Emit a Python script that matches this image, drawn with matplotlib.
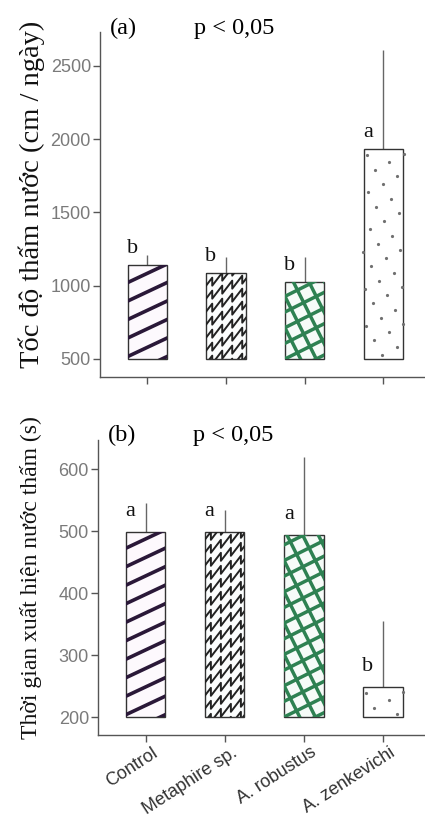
import matplotlib
matplotlib.use('Agg')
import matplotlib.pyplot as plt
import numpy as np
from matplotlib.collections import LineCollection
from matplotlib.transforms import IdentityTransform, ScaledTranslation

groups = ['Control', 'Metaphire sp.', 'A. robustus', 'A. zenkevichi']

rate_mean = [1144, 1089, 1027, 1932]
rate_err = [68, 110, 172, 678]
rate_letters = ['b', 'b', 'b', 'a']

time_mean = [498, 498, 494, 248]
time_err = [47, 36, 126, 107]
time_letters = ['a', 'a', 'a', 'b']

SERIF = ['Liberation Serif', 'DejaVu Serif']
SANS = ['Liberation Sans', 'DejaVu Sans']
GREY = '#555555'


def lines_in(ax, bar, segs, color, lw):
    coll = LineCollection(segs, colors=color, linewidths=lw,
                          transform=IdentityTransform(), zorder=2.5)
    ax.add_collection(coll, autolim=False)
    coll.set_clip_path(bar)


def stripes(ax, bar, slope, step, color, lw):
    bb = bar.get_window_extent()
    segs = []
    c = bb.y0 - slope * bb.width - step
    while c < bb.y1 + step:
        segs.append([(bb.x0 - 5, c), (bb.x1 + 5, c + slope * (bb.width + 10))])
        c += step
    lines_in(ax, bar, segs, color, lw)


def cross(ax, bar, step, color, lw):
    bb = bar.get_window_extent()
    ang = np.arctan(0.5)
    u = np.array([np.cos(ang), np.sin(ang)])
    v = np.array([-np.sin(ang), np.cos(ang)])
    ctr = np.array([bb.x0, bb.y0])
    L = 400
    segs = []
    for k in range(-30, 31):
        p = ctr + v * k * step
        segs.append([p - u * L, p + u * L])
        q = ctr + u * k * step
        segs.append([q - v * L, q + v * L])
    lines_in(ax, bar, segs, color, lw)


def zigzag(ax, bar, color, lw):
    bb = bar.get_window_extent()
    segs = []
    y = bb.y0 - bb.width * 0.5 - 16
    while y < bb.y1 + 16:
        pts = []
        x = bb.x0 - 4
        yy = y
        while x < bb.x1 + 10:
            pts.append((x, yy))
            pts.append((x + 10, yy + 13))
            pts.append((x + 10, yy + 5))
            x += 10
            yy += 5
        segs.append(pts)
        y += 13
    lines_in(ax, bar, segs, color, lw)


def dots(ax, bar, color):
    bb = bar.get_window_extent()
    v1 = np.array([6.5, 22.5])
    v2 = np.array([8.0, -14.5])
    xs, ys = [], []
    for i in range(-40, 40):
        for j in range(-40, 40):
            p = np.array([bb.x0 + 3, bb.y1 - 6]) + i * v1 + j * v2
            if bb.x0 - 1 <= p[0] <= bb.x1 + 1 and bb.y0 <= p[1] <= bb.y1 - 2:
                xs.append(p[0])
                ys.append(p[1])
    ax.plot(xs, ys, 'o', ms=2.3, color=color, mec='none',
            transform=IdentityTransform(), zorder=2.5, clip_on=False)


def panel(ax, means, errs, letters, base, ylim, yticks, tag, ylabel, lab_size,
          letter_off):
    x = np.arange(len(groups))
    means = np.array(means)
    faces = ['#fdf9fd', '#fbfdfd', '#f6fbf8', '#ffffff']
    bars = ax.bar(x, means - base, bottom=base, width=0.5, color=faces,
                  edgecolor='#333333', linewidth=1.0, zorder=2)
    ax.vlines(x, means, means + np.array(errs), color='#666666', lw=1.0, zorder=1)
    for xi, m, lt in zip(x, means, letters):
        ax.text(xi - 0.19, m + letter_off, lt, ha='center', va='baseline',
                fontsize=16, family=SERIF, color='#111111')
    ax.set_xlim(-0.6, 3.53)
    ax.set_ylim(*ylim)
    ax.set_yticks(yticks)
    ax.set_xticks(x)
    for s in ['top', 'right']:
        ax.spines[s].set_visible(False)
    for s in ['left', 'bottom']:
        ax.spines[s].set_color(GREY)
        ax.spines[s].set_linewidth(1.0)
    ax.tick_params(colors=GREY, length=5, width=1.0, pad=1.5)
    for t in ax.get_yticklabels():
        t.set_fontfamily(SANS)
        t.set_fontsize(13)
        t.set_color('#7a7a7a')
    ax.set_ylabel(ylabel, family=SERIF, fontsize=lab_size, color='#111111')
    ax.text(0.03, 0.995, tag, transform=ax.transAxes, family=SERIF,
            fontsize=17.5, va='baseline', ha='left')
    ax.text(0.29, 0.995, 'p < 0,05', transform=ax.transAxes, family=SERIF,
            fontsize=17.5, va='baseline', ha='left')
    return bars


fig = plt.figure(figsize=(4.25, 8.18), dpi=100)
ax1 = fig.add_axes([100 / 425, 1 - 377 / 818, 325 / 425, 345 / 818])
ax2 = fig.add_axes([98 / 425, 1 - 735 / 818, 327 / 425, 295 / 818])

bars1 = panel(ax1, rate_mean, rate_err, rate_letters, 500, (377, 2732),
              [500, 1000, 1500, 2000, 2500], '(a)',
              'Tốc độ thấm nước (cm / ngày)', 20.5, 82)
bars2 = panel(ax2, time_mean, time_err, time_letters, 200, (171, 647),
              [200, 300, 400, 500, 600], '(b)',
              'Thời gian xuất hiện nước thấm (s)', 17, 26)

ax1.set_xticklabels([])
ax2.set_xticklabels(groups, rotation=33, ha='right', va='top',
                    rotation_mode='anchor', family=SANS, fontsize=13,
                    color='#333333')
shift = ScaledTranslation(6 / 100, 0, fig.dpi_scale_trans)
for t in ax2.get_xticklabels():
    t.set_transform(t.get_transform() + shift)
ax1.yaxis.set_label_coords(-0.17, 0.53)
ax2.yaxis.set_label_coords(-0.17, 0.535)

for ax, bars in ((ax1, bars1), (ax2, bars2)):
    stripes(ax, bars[0], 0.47, 18.5, '#2a1838', 2.6)
    zigzag(ax, bars[1], '#222222', 1.4)
    cross(ax, bars[2], 14, '#2e8152', 2.5)
    dots(ax, bars[3], '#707070')

fig.savefig('out.png', dpi=100)
